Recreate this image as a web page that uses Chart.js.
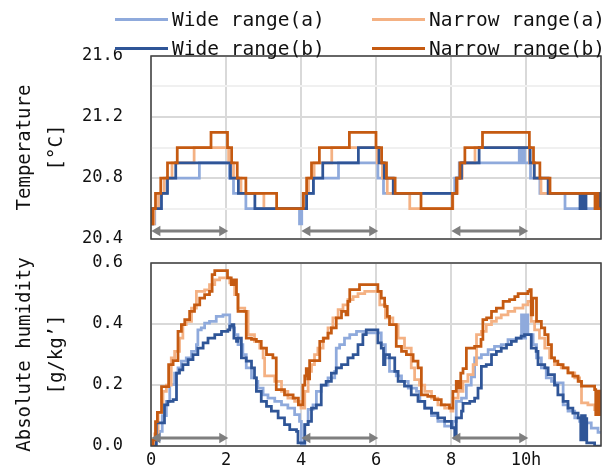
<!DOCTYPE html>
<html>
<head>
<meta charset="utf-8">
<script src="https://cdn.jsdelivr.net/npm/chart.js@4.4.1/dist/chart.umd.min.js"></script>
<style>
  body { margin: 0; width: 605px; height: 470px; position: relative; background: #fff; overflow: hidden;
         font-family: "DejaVu Sans Mono", monospace; }
  canvas { position: absolute; left: 0; }
  #tempChart { top: 0; }
  #humChart { top: 250px; }
  .item { position: absolute; display: flex; align-items: center; font-size: 19.5px; color: #111; white-space: nowrap; height: 26px; }
  .item .sw { display: inline-block; width: 53px; height: 3px; margin-right: 4px; }
</style>
</head>
<body>
<canvas id="tempChart" width="605" height="250"></canvas>
<canvas id="humChart" width="605" height="220"></canvas>
<div id="legend"></div>
<script>
// series names / colours
const seriesNames = ['Wide range(a)', 'Narrow range(a)', 'Wide range(b)', 'Narrow range(b)'];
const seriesColors = ['#8faadc', '#f4b183', '#2f5597', '#c55a11'];

// tick labels
const xTickLabels = ['0', '2', '4', '6', '8', '10h', ''];
const tempTickLabels = ['20.4', '', '20.8', '', '21.2', '', '21.6'];
const humTickLabels = ['0.0', '0.2', '0.4', '0.6'];

// the 2 h periods marked by arrows
const arrowSpans = [[0, 2], [4, 6], [8, 10]];

// temperature [h, degC], value changes at each point
const tempWideA = [[0,20.5],[0.1,20.6],[0.24,20.7],[0.42,20.8],[1.29,20.9],[2.09,20.8],[2.2,20.7],[2.53,20.6],[3.96,20.5],[4.02,20.6],[4.11,20.7],[4.33,20.8],[5.0,20.9],[6.05,20.8],[6.2,20.7],[8.1,20.8],[8.22,20.9],[9.82,21.0],[9.85,20.9],[9.88,21.0],[9.9,20.9],[9.93,21.0],[9.96,20.9],[10.12,20.8],[10.37,20.7],[11.04,20.6],[12,20.6]];
const tempNarrowA = [[0,20.5],[0.08,20.6],[0.2,20.7],[0.35,20.8],[0.56,20.9],[1.15,21.0],[2.07,20.9],[2.2,20.8],[2.4,20.7],[3.01,20.6],[4.08,20.7],[4.2,20.8],[4.35,20.9],[4.82,21.0],[6.03,20.9],[6.17,20.8],[6.3,20.7],[6.9,20.6],[8.05,20.7],[8.18,20.8],[8.3,20.9],[8.64,21.0],[10.09,20.9],[10.22,20.8],[10.4,20.7],[12,20.7]];
const tempWideB = [[0,20.5],[0.04,20.6],[0.28,20.7],[0.44,20.8],[0.66,20.9],[2.12,20.8],[2.33,20.7],[2.77,20.6],[4.15,20.7],[4.33,20.8],[4.58,20.9],[5.53,21.0],[6.08,20.9],[6.22,20.8],[6.46,20.7],[8.15,20.8],[8.28,20.9],[8.75,21.0],[10.11,20.9],[10.22,20.8],[10.59,20.7],[11.44,20.6],[11.47,20.7],[11.5,20.6],[11.53,20.7],[11.56,20.6],[11.6,20.7],[11.9,20.6],[11.93,20.7],[11.96,20.6],[12,20.6]];
const tempNarrowB = [[0,20.5],[0.05,20.6],[0.12,20.7],[0.26,20.8],[0.44,20.9],[0.7,21.0],[1.6,21.1],[2.04,21.0],[2.15,20.9],[2.3,20.8],[2.53,20.7],[3.35,20.6],[4.06,20.7],[4.15,20.8],[4.28,20.9],[4.49,21.0],[5.29,21.1],[6.0,21.0],[6.15,20.9],[6.28,20.8],[6.51,20.7],[7.2,20.6],[8.04,20.7],[8.15,20.8],[8.24,20.9],[8.37,21.0],[8.84,21.1],[10.09,21.0],[10.2,20.9],[10.37,20.8],[10.64,20.7],[11.84,20.6],[11.88,20.7],[11.92,20.6],[12,20.6]];

// absolute humidity [h, g/kg']
const humWideA = [[0,0],[0.14,0.02],[0.23,0.048],[0.3,0.1],[0.41,0.146],[0.5,0.201],[0.63,0.239],[0.72,0.256],[0.81,0.278],[0.94,0.289],[1.08,0.31],[1.21,0.332],[1.25,0.381],[1.34,0.387],[1.43,0.403],[1.56,0.409],[1.74,0.425],[1.92,0.43],[2.1,0.387],[2.23,0.365],[2.32,0.332],[2.45,0.3],[2.54,0.256],[2.68,0.223],[2.81,0.212],[2.85,0.19],[2.99,0.168],[3.12,0.157],[3.3,0.146],[3.48,0.135],[3.65,0.124],[3.83,0.103],[3.96,0.081],[4.01,0.004],[4.1,0.07],[4.19,0.12],[4.32,0.135],[4.41,0.179],[4.54,0.2],[4.72,0.223],[4.9,0.245],[4.94,0.321],[5.03,0.332],[5.16,0.354],[5.3,0.365],[5.48,0.376],[5.7,0.371],[6.14,0.332],[6.25,0.289],[6.36,0.245],[6.54,0.23],[6.68,0.212],[6.86,0.19],[7.08,0.179],[7.17,0.146],[7.3,0.124],[7.48,0.1],[7.65,0.081],[7.83,0.065],[8.01,0.059],[8.05,0.081],[8.14,0.146],[8.28,0.157],[8.41,0.2],[8.54,0.227],[8.63,0.289],[8.81,0.3],[8.99,0.316],[9.16,0.327],[9.34,0.332],[9.52,0.349],[9.74,0.354],[9.88,0.43],[9.9,0.354],[9.93,0.43],[9.96,0.354],[9.99,0.43],[10.05,0.365],[10.19,0.332],[10.28,0.289],[10.41,0.256],[10.54,0.223],[10.68,0.212],[10.76,0.207],[10.99,0.135],[11.12,0.114],[11.3,0.092],[11.43,0.081],[11.56,0.076],[11.74,0.059],[11.92,0.045],[12,0.045]];
const humNarrowA = [[0,0],[0.1,0.04],[0.19,0.11],[0.32,0.179],[0.41,0.2],[0.54,0.289],[0.63,0.31],[0.76,0.354],[0.85,0.398],[0.94,0.409],[1.08,0.452],[1.21,0.507],[1.34,0.507],[1.43,0.512],[1.56,0.529],[1.7,0.545],[1.83,0.551],[2.1,0.535],[2.23,0.496],[2.32,0.452],[2.5,0.441],[2.59,0.365],[2.76,0.343],[2.9,0.321],[2.99,0.289],[3.03,0.23],[3.3,0.212],[3.48,0.179],[3.65,0.157],[3.83,0.146],[4.0,0.124],[4.1,0.179],[4.19,0.245],[4.28,0.267],[4.36,0.3],[4.45,0.321],[4.59,0.354],[4.72,0.387],[4.85,0.42],[4.99,0.447],[5.12,0.463],[5.25,0.48],[5.39,0.49],[5.52,0.5],[5.7,0.507],[6.1,0.463],[6.25,0.42],[6.45,0.398],[6.59,0.354],[6.76,0.321],[6.94,0.256],[7.03,0.218],[7.16,0.2],[7.3,0.179],[7.48,0.157],[7.65,0.135],[7.83,0.124],[8.0,0.114],[8.05,0.157],[8.19,0.179],[8.32,0.212],[8.45,0.234],[8.59,0.267],[8.68,0.365],[8.81,0.376],[8.94,0.398],[9.08,0.409],[9.21,0.42],[9.34,0.43],[9.52,0.441],[9.7,0.452],[9.92,0.463],[10.05,0.474],[10.14,0.409],[10.23,0.381],[10.36,0.354],[10.5,0.321],[10.63,0.289],[10.76,0.267],[10.94,0.256],[11.12,0.24],[11.3,0.223],[11.43,0.212],[11.48,0.141],[11.65,0.135],[11.83,0.119],[12,0.119]];
const humWideB = [[0,0],[0.1,0.0],[0.14,0.076],[0.36,0.135],[0.45,0.146],[0.59,0.152],[0.68,0.239],[0.76,0.25],[0.85,0.267],[0.99,0.283],[1.12,0.3],[1.25,0.321],[1.39,0.338],[1.52,0.354],[1.7,0.365],[1.88,0.376],[2.05,0.381],[2.1,0.393],[2.16,0.398],[2.21,0.354],[2.28,0.343],[2.32,0.354],[2.41,0.289],[2.54,0.278],[2.68,0.256],[2.76,0.223],[2.81,0.179],[2.94,0.146],[3.08,0.13],[3.21,0.114],[3.39,0.092],[3.56,0.07],[3.7,0.054],[3.88,0.048],[3.92,0.01],[4.1,0.07],[4.19,0.081],[4.28,0.124],[4.41,0.135],[4.54,0.2],[4.67,0.212],[4.81,0.239],[4.94,0.256],[5.08,0.267],[5.25,0.289],[5.39,0.3],[5.52,0.332],[5.65,0.365],[5.74,0.381],[6.05,0.338],[6.14,0.321],[6.2,0.267],[6.24,0.3],[6.36,0.289],[6.5,0.245],[6.59,0.212],[6.76,0.196],[6.94,0.168],[7.12,0.146],[7.3,0.124],[7.48,0.108],[7.65,0.092],[7.83,0.081],[8.01,0.06],[8.1,0.026],[8.14,0.092],[8.28,0.114],[8.32,0.14],[8.5,0.146],[8.63,0.157],[8.72,0.19],[8.81,0.261],[8.94,0.267],[9.08,0.3],[9.21,0.31],[9.34,0.321],[9.48,0.332],[9.61,0.343],[9.74,0.354],[9.87,0.36],[9.96,0.365],[10.14,0.321],[10.27,0.31],[10.32,0.267],[10.5,0.256],[10.59,0.234],[10.76,0.2],[10.85,0.168],[10.99,0.146],[11.12,0.124],[11.25,0.108],[11.39,0.092],[11.46,0.02],[11.48,0.1],[11.5,0.02],[11.52,0.1],[11.54,0.02],[11.56,0.1],[11.58,0.02],[11.6,0.09],[11.62,0.01],[11.83,0],[12,0]];
const humNarrowB = [[0,0],[0.05,0.02],[0.12,0.08],[0.17,0.11],[0.28,0.195],[0.47,0.267],[0.59,0.28],[0.72,0.376],[0.81,0.398],[0.9,0.414],[1.03,0.441],[1.16,0.463],[1.3,0.485],[1.43,0.496],[1.56,0.507],[1.63,0.562],[1.7,0.575],[2.04,0.551],[2.14,0.529],[2.21,0.545],[2.28,0.496],[2.32,0.441],[2.54,0.354],[2.68,0.35],[2.81,0.343],[2.94,0.321],[3.08,0.3],[3.25,0.289],[3.34,0.185],[3.56,0.168],[3.79,0.157],[3.93,0.135],[4.05,0.2],[4.1,0.23],[4.14,0.254],[4.18,0.22],[4.23,0.28],[4.5,0.343],[4.6,0.354],[4.72,0.37],[4.81,0.387],[4.94,0.42],[5.08,0.441],[5.2,0.43],[5.25,0.474],[5.3,0.513],[5.56,0.529],[6.05,0.507],[6.14,0.485],[6.23,0.458],[6.3,0.425],[6.36,0.398],[6.54,0.327],[6.68,0.31],[6.81,0.3],[6.99,0.278],[7.12,0.256],[7.21,0.168],[7.38,0.163],[7.56,0.152],[7.74,0.135],[7.96,0.124],[8.05,0.179],[8.14,0.212],[8.19,0.19],[8.26,0.239],[8.32,0.254],[8.41,0.321],[8.63,0.327],[8.8,0.35],[8.85,0.414],[8.95,0.42],[9.08,0.441],[9.21,0.452],[9.39,0.474],[9.56,0.48],[9.7,0.49],[9.79,0.5],[10.05,0.507],[10.1,0.513],[10.14,0.43],[10.18,0.485],[10.28,0.409],[10.41,0.387],[10.5,0.365],[10.59,0.332],[10.68,0.289],[10.76,0.278],[10.85,0.267],[10.99,0.256],[11.12,0.24],[11.25,0.229],[11.39,0.212],[11.48,0.196],[11.83,0.185],[11.86,0.103],[11.88,0.18],[11.9,0.103],[11.92,0.18],[11.94,0.103],[11.96,0.18],[11.98,0.103],[12,0.103]];

const FONT = '"DejaVu Sans Mono", monospace';
const toXY = arr => arr.map(([x, y]) => ({x, y}));

// legend (2 x 2)
const legendPos = [[115, 6], [372, 6], [115, 35], [372, 35]];
const legend = document.getElementById('legend');
seriesNames.forEach((name, i) => {
  const d = document.createElement('div');
  d.className = 'item';
  d.style.left = legendPos[i][0] + 'px';
  d.style.top = legendPos[i][1] + 'px';
  d.innerHTML = '<span class="sw" style="background:' + seriesColors[i] + '"></span>' + name;
  legend.appendChild(d);
});

function arrowData(y) {
  const pts = [];
  arrowSpans.forEach(([a, b]) => {
    pts.push({x: a + 0.17, y}, {x: b - 0.1, y}, {x: b + 0.5, y: null});
  });
  return pts;
}

function makeDatasets(series, arrowY) {
  // dataset 0 is drawn on top
  const order = [3, 2, 1, 0];
  const sets = [{
    data: arrowData(arrowY),
    borderColor: '#7f7f7f', borderWidth: 3,
    pointStyle: 'triangle', pointRadius: 6, pointBorderWidth: 0,
    pointBackgroundColor: '#7f7f7f',
    pointRotation: c => (c.dataIndex % 3 === 0 ? 270 : 90),
    spanGaps: false
  }];
  order.forEach(i => sets.push({
    label: seriesNames[i],
    data: toXY(series[i]),
    borderColor: seriesColors[i],
    borderWidth: 2.75,
    stepped: true,
    pointRadius: 0
  }));
  return sets;
}

const framePlugin = {
  id: 'frame',
  afterDatasetsDraw(chart) {
    const {ctx, chartArea: a} = chart;
    ctx.save();
    ctx.strokeStyle = '#404040';
    ctx.lineWidth = 1.5;
    ctx.strokeRect(a.left, a.top, a.right - a.left, a.bottom - a.top);
    ctx.restore();
  }
};

// no automatic label padding: the chart area is set by layout.padding only
function noPad(s) {
  s.paddingTop = 0; s.paddingBottom = 0; s.paddingLeft = 0; s.paddingRight = 0;
}

function makeOptions(cfg) {
  return {
    responsive: false,
    animation: false,
    devicePixelRatio: 1,
    layout: {padding: cfg.padding, autoPadding: false},
    plugins: {legend: {display: false}, tooltip: {enabled: false}},
    scales: {
      x: {
        type: 'linear', min: 0, max: 12,
        border: {display: false},
        grid: {color: '#d9d9d9', lineWidth: 2, drawTicks: false},
        ticks: {
          stepSize: 2, display: cfg.showX, padding: 4, color: '#111',
          font: {family: FONT, size: 17},
          callback: (v, i) => xTickLabels[i]
        },
        afterFit: s => { s.height = cfg.xHeight; noPad(s); }
      },
      y: {
        min: cfg.yMin, max: cfg.yMax,
        border: {display: false},
        grid: {
          color: c => (cfg.minor && c.index % 2 === 1 ? '#f0f0f0' : '#d9d9d9'),
          lineWidth: 2, drawTicks: false
        },
        ticks: {
          stepSize: 0.2, padding: 28, color: '#111',
          font: {family: FONT, size: 17},
          callback: (v, i) => cfg.labels[i]
        },
        title: {
          display: true, text: cfg.title, color: '#111',
          font: {family: FONT, size: 19, lineHeight: 1.68},
          padding: {top: 9, bottom: 0}
        },
        afterFit: s => { s.width = 151; noPad(s); }
      }
    }
  };
}

new Chart(document.getElementById('tempChart'), {
  type: 'line',
  data: {datasets: makeDatasets([tempWideA, tempNarrowA, tempWideB, tempNarrowB], 20.452)},
  options: makeOptions({
    padding: {top: 56, right: 4, bottom: 11, left: 0},
    showX: false, xHeight: 0,
    yMin: 20.4, yMax: 21.6, minor: true,
    labels: tempTickLabels,
    title: ['Temperature', '[°C]']
  }),
  plugins: [framePlugin]
});

new Chart(document.getElementById('humChart'), {
  type: 'line',
  data: {datasets: makeDatasets([humWideA, humNarrowA, humWideB, humNarrowB], 0.026)},
  options: makeOptions({
    padding: {top: 13, right: 4, bottom: 0, left: 0},
    showX: true, xHeight: 24,
    yMin: 0, yMax: 0.6, minor: false,
    labels: humTickLabels,
    title: ['Absolute humidity', '[g/kg’]']
  }),
  plugins: [framePlugin]
});
</script>
</body>
</html>
